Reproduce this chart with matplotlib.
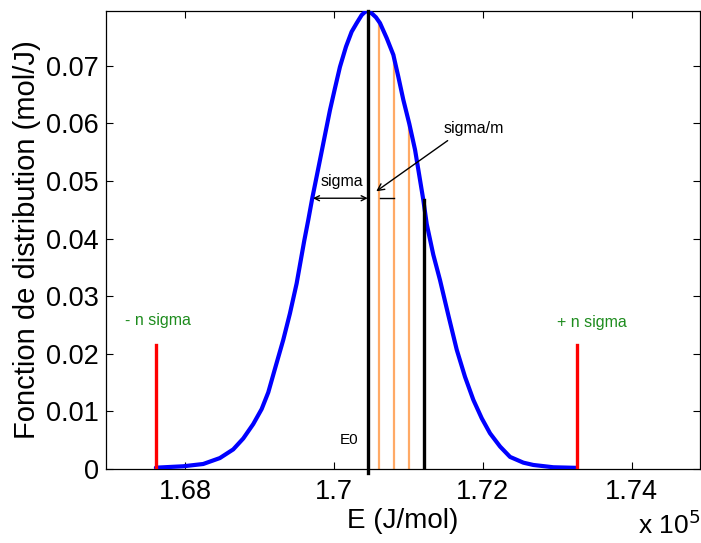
import matplotlib
matplotlib.use("Agg")
import matplotlib.pyplot as plt
from matplotlib.ticker import FixedLocator

plt.rcParams['font.family'] = ['Liberation Sans', 'DejaVu Sans']

# Distribution curve (E in J/mol, f in mol/J)
E_curve = [167610, 167977, 168246, 168470, 168649, 168784, 168918, 169031, 169120,
           169210, 169321, 169411, 169501, 169603, 169657, 169711, 169761, 169814,
           169882, 169949, 170016, 170083, 170164, 170240, 170308, 170375, 170433,
           170509, 170567, 170621, 170711, 170800, 170867, 170934, 171015, 171092,
           171203, 171249, 171337, 171427, 171539, 171652, 171763, 171875, 171988,
           172099, 172234, 172368, 172547, 172681, 172950, 173264]
f_curve = [0.00023, 0.00047, 0.00087, 0.0019, 0.0034, 0.0053, 0.0078, 0.0104, 0.0133,
           0.0174, 0.0224, 0.0270, 0.0322, 0.0396, 0.0432, 0.0470, 0.0502, 0.0536,
           0.0580, 0.0623, 0.0661, 0.0698, 0.0733, 0.0759, 0.0774, 0.0788, 0.0795,
           0.0791, 0.0784, 0.0774, 0.0748, 0.0719, 0.0681, 0.0641, 0.0599, 0.0554,
           0.0467, 0.0425, 0.0372, 0.0328, 0.0267, 0.0207, 0.0160, 0.0120, 0.0088,
           0.0062, 0.0039, 0.0021, 0.0011, 0.0007, 0.0003, 0.0002]

# Marker lines
E0 = 170456
E_sigma = 171212
f_sigma = 0.0467
E_orange = [170612, 170806, 171007]
f_orange = [0.0774, 0.0719, 0.0599]
E_nsigma = [167610, 173270]
f_nsigma = 0.0215
E_arrow_left = 169720
f_arrow = 0.0470
E_bar = [170627, 170806]

xticks = [168000, 170000, 172000, 174000]
xticklabels = ["1.68", "1.7", "1.72", "1.74"]
yticks = [0, 0.01, 0.02, 0.03, 0.04, 0.05, 0.06, 0.07]
yticklabels = ["0", "0.01", "0.02", "0.03", "0.04", "0.05", "0.06", "0.07"]

fig = plt.figure(figsize=(7.01, 5.43), dpi=100)
ax = fig.add_axes([106/701, 1-469/543, (700-106)/701, (469-11)/543])

green = '#1e8c1e'
orange = '#ffaa66'

ax.plot(E_curve, f_curve, color='#0000ff', lw=3.0, solid_joinstyle='round',
        solid_capstyle='round', zorder=3)

for e, f in zip(E_orange, f_orange):
    ax.plot([e, e], [0, f], color=orange, lw=1.6, zorder=2)
ax.plot([E0, E0], [-0.0007, 0.0795], color='black', lw=2.4, zorder=4, clip_on=False)
ax.plot([E_sigma, E_sigma], [0, f_sigma], color='black', lw=2.4, zorder=4)
for e in E_nsigma:
    ax.plot([e, e], [0, f_nsigma], color='#ff0000', lw=2.4, zorder=4)

ax.annotate('', xy=(E_arrow_left, f_arrow), xytext=(E0, f_arrow),
            arrowprops=dict(arrowstyle='<->', color='black', lw=1.0,
                            shrinkA=0, shrinkB=0, mutation_scale=9))
ax.plot(E_bar, [f_arrow, f_arrow], color='black', lw=1.0)
ax.annotate('', xy=(170570, 0.0482), xytext=(171530, 0.0570),
            arrowprops=dict(arrowstyle='->', color='black', lw=1.0,
                            shrinkA=0, shrinkB=0, mutation_scale=12))

ax.text(170103, 0.0499, 'sigma', fontsize=11.5, ha='center', va='center')
ax.text(171884, 0.0591, 'sigma/m', fontsize=11.5, ha='center', va='center')
ax.text(170200, 0.0050, 'E0', fontsize=11, ha='center', va='center')
ax.text(167637, 0.0257, '- n sigma', fontsize=11.5, ha='center', va='center', color=green)
ax.text(173466, 0.0254, '+ n sigma', fontsize=11.5, ha='center', va='center', color=green)

ax.set_xlim(166940, 174920)
ax.set_ylim(0, 0.0795)
ax.xaxis.set_major_locator(FixedLocator(xticks))
ax.set_xticklabels(xticklabels)
ax.yaxis.set_major_locator(FixedLocator(yticks))
ax.set_yticklabels(yticklabels)
ax.tick_params(direction='in', length=5, width=0.8, top=True, right=True,
               labelsize=19.5, pad=5)
ax.tick_params(axis='x', pad=7)
for s in ax.spines.values():
    s.set_linewidth(0.9)

ax.set_xlabel('E (J/mol)', fontsize=20, labelpad=2)
ax.set_ylabel('Fonction de distribution (mol/J)', fontsize=21, labelpad=4)
fig.text(0.999, 0.008, r'x 10$^{5}$', fontsize=19, ha='right', va='bottom')

fig.savefig('out.png', dpi=100)
